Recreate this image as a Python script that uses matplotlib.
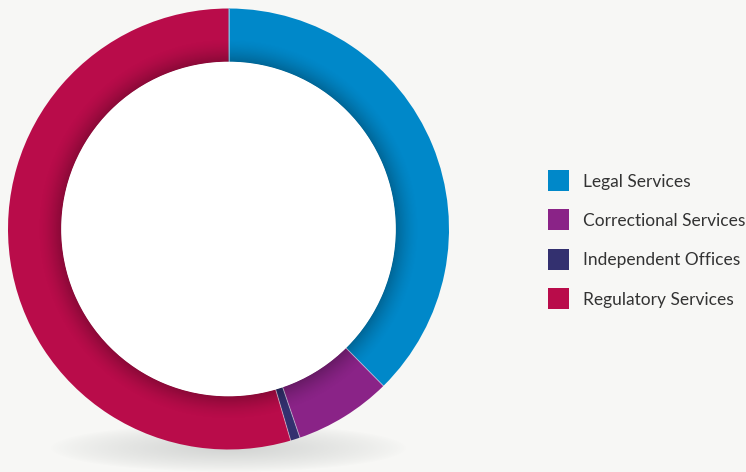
import numpy as np
import matplotlib
matplotlib.use("Agg")
import matplotlib.pyplot as plt
from matplotlib.patches import Wedge, Rectangle

categories = ["Legal Services", "Correctional Services", "Independent Offices", "Regulatory Services"]
shares = [37.6, 7.15, 0.7, 54.55]
colors = ["#0088c9", "#8a2387", "#33306f", "#b90c4a"]

W, H = 746, 472
bg = "#f7f7f5"
fig = plt.figure(figsize=(W / 100, H / 100), dpi=100, facecolor=bg)
ax = fig.add_axes([0, 0, 1, 1])
ax.set_xlim(0, W)
ax.set_ylim(0, H)
ax.set_aspect("equal")
ax.axis("off")
ax.set_facecolor(bg)

cx, cy = 228.5, H - 229
r_out, r_in = 220.5, 167.0

# soft floor shadow under the ring
yy, xx = np.mgrid[0:H, 0:W]
ey = H - yy - 0.5
ex = xx + 0.5
d = np.sqrt(((ex - cx) / 178.0) ** 2 + ((ey - (H - 448)) / 24.0) ** 2)
a = np.clip(1 - d, 0, 1) ** 0.8 * 0.35
shadow = np.zeros((H, W, 4))
shadow[..., :3] = np.array([0.55, 0.57, 0.57])
shadow[..., 3] = a
ax.imshow(shadow, extent=(0, W, 0, H), origin="upper", zorder=1, interpolation="bilinear")

# ring segments, clockwise from twelve o'clock
total = float(sum(shares))
start = 90.0
bounds = []
for val, col in zip(shares, colors):
    sweep = 360.0 * val / total
    ax.add_patch(Wedge((cx, cy), r_out, start - sweep, start, width=r_out - r_in,
                       facecolor=col, edgecolor="none", zorder=2, antialiased=True))
    bounds.append(start)
    start -= sweep

# inner shading along the hole edge
r = np.sqrt((ex - cx) ** 2 + (ey - cy) ** 2)
t = np.clip((r - r_in) / 24.0, 0, 1)
inner = (1 - t) ** 1.6 * 0.26
inner[(r < r_in) | (r > r_out)] = 0
shade = np.zeros((H, W, 4))
shade[..., 3] = inner
ax.imshow(shade, extent=(0, W, 0, H), origin="upper", zorder=3, interpolation="bilinear")

# faint light seams between segments
for b in bounds:
    th = np.deg2rad(b)
    ax.plot([cx + r_in * np.cos(th), cx + r_out * np.cos(th)],
            [cy + r_in * np.sin(th), cy + r_out * np.sin(th)],
            color="white", alpha=0.45, lw=0.7, zorder=4)

# white centre
ax.add_patch(Wedge((cx, cy), r_in + 0.3, 0, 360, facecolor="white", edgecolor="none", zorder=5))

# legend
x0 = 548
ys = [180, 219.5, 259, 298.5]
for lab, col, yc in zip(categories, colors, ys):
    ax.add_patch(Rectangle((x0, H - yc - 10.5), 21, 21, facecolor=col, edgecolor="none", zorder=6))
    ax.text(583, H - yc - 1.5, lab, fontsize=12.5, family=["Lato", "DejaVu Sans"], color="#333333",
            va="center", ha="left", zorder=6)

fig.savefig("out.png", dpi=100, facecolor=bg)
